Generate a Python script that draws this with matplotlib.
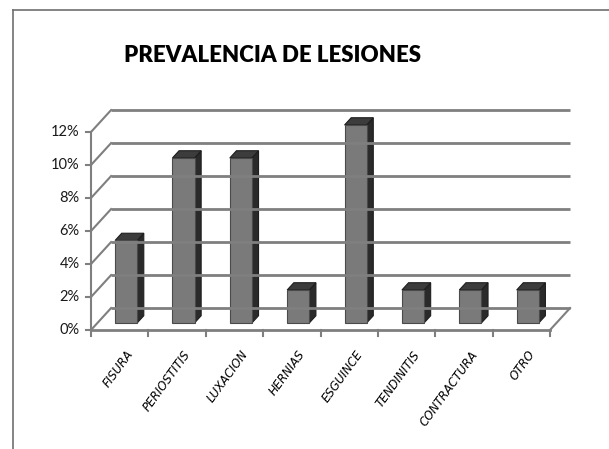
import matplotlib
matplotlib.use("Agg")
import matplotlib.pyplot as plt
from matplotlib.patches import Polygon
from matplotlib.lines import Line2D

# data
categorias = ['FISURA', 'PERIOSTITIS', 'LUXACION', 'HERNIAS', 'ESGUINCE',
              'TENDINITIS', 'CONTRACTURA', 'OTRO']
prevalencia = [5, 10, 10, 2, 12, 2, 2, 2]   # %
y_ticks = [0, 2, 4, 6, 8, 10, 12]

W, H = 609, 449
FONT = ['Lato', 'DejaVu Sans']
fig = plt.figure(figsize=(W / 100, H / 100), dpi=100)
fig.patch.set_facecolor('white')

# outer frame (top and left only visible)
fig.add_artist(Line2D([13 / W, 1], [1 - 10 / H, 1 - 10 / H], color='#707070', lw=1.2))
fig.add_artist(Line2D([13 / W, 13 / W], [0, 1 - 10 / H], color='#707070', lw=1.2))

fig.text(272 / W, 1 - 56 / H, 'PREVALENCIA DE LESIONES', ha='center', va='center',
         fontsize=16, fontweight='heavy', family=FONT)

# axes: x = category units, y = percent (front plane)
ax = fig.add_axes([91 / W, 1 - 330 / H, 459 / W, 198 / H])
n = len(categorias)
ax.set_xlim(0, n)
ax.set_ylim(0, 12)
ax.axis('off')

# depth offset of the back wall in data units
DX, DY = 0.35, 1.33
grid_c = '#7f7f7f'

# back wall gridlines and side wall diagonals
for t in y_ticks:
    ax.plot([DX, n + DX], [t + DY, t + DY], color=grid_c, lw=2, clip_on=False,
            solid_capstyle='butt')
    ax.plot([0, DX], [t, t + DY], color=grid_c, lw=1.5, clip_on=False)
    ax.plot([-0.09, 0], [t, t], color=grid_c, lw=1.5, clip_on=False)
    ax.text(-0.2, t, f'{t}%', ha='right', va='center', fontsize=10.5,
            color='#1a1a1a', family=FONT)

# front axis, floor
ax.plot([0, 0], [0, 12], color=grid_c, lw=1.5, clip_on=False)
ax.plot([0, n], [0, 0], color=grid_c, lw=2, clip_on=False)
ax.plot([n, n + DX], [0, DY], color=grid_c, lw=1.5, clip_on=False)
for i in range(n + 1):
    ax.plot([i, i], [0, -0.35], color=grid_c, lw=1.5, clip_on=False)

# bars
bw = 0.385
f0, f1 = 0.32, 0.65
for i, v in enumerate(prevalencia):
    x0 = i + 0.5 - bw / 2 + f0 * DX
    y0 = f0 * DY
    ddx, ddy = (f1 - f0) * DX, (f1 - f0) * DY
    front = [(x0, y0), (x0 + bw, y0), (x0 + bw, y0 + v), (x0, y0 + v)]
    side = [(x0 + bw, y0), (x0 + bw + ddx, y0 + ddy), (x0 + bw + ddx, y0 + v + ddy),
            (x0 + bw, y0 + v)]
    top = [(x0, y0 + v), (x0 + bw, y0 + v), (x0 + bw + ddx, y0 + v + ddy),
           (x0 + ddx, y0 + v + ddy)]
    ax.add_patch(Polygon(side, closed=True, fc='#2a2a2a', ec='#1e1e1e', lw=0.8, clip_on=False))
    ax.add_patch(Polygon(top, closed=True, fc='#3c3c3c', ec='#1e1e1e', lw=0.8, clip_on=False))
    ax.add_patch(Polygon(front, closed=True, fc='#7a7a7a', ec='#4a4a4a', lw=0.8, clip_on=False))

# category labels
for i, c in enumerate(categorias):
    ax.text(i + 0.6, -1.1, c, rotation=54, ha='right', va='top', rotation_mode='anchor',
            fontsize=8.5, style='italic', color='black', family='DejaVu Sans')

fig.savefig('out.png', dpi=100)
